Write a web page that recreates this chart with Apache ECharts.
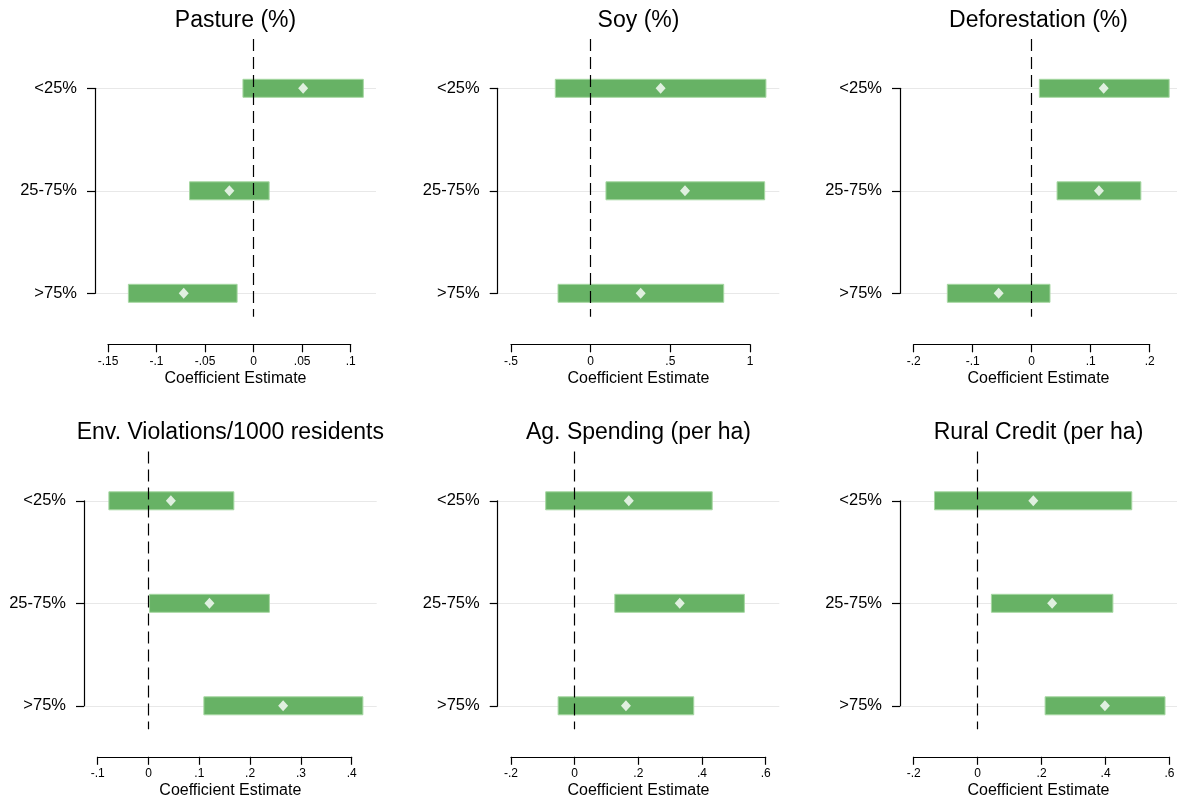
<!DOCTYPE html>
<html>
<head>
<meta charset="utf-8">
<script src="https://cdn.jsdelivr.net/npm/echarts@6/dist/echarts.min.js"></script>
<style>
html,body{margin:0;padding:0;background:#fff;}
#chart{width:1178px;height:804px;}
</style>
</head>
<body>
<div id="chart"></div>
<script>
// ---------- data ----------
const categories = ['<25%', '25-75%', '>75%'];
const panelTitles = ['Pasture (%)', 'Soy (%)', 'Deforestation (%)',
  'Env. Violations/1000 residents', 'Ag. Spending (per ha)', 'Rural Credit (per ha)'];
const axisTitle = 'Coefficient Estimate';

const pastureLow = [-0.011, -0.066, -0.129];
const pastureEst = [0.051, -0.025, -0.072];
const pastureHigh = [0.113, 0.016, -0.017];

const soyLow = [-0.222, 0.096, -0.205];
const soyEst = [0.439, 0.592, 0.314];
const soyHigh = [1.100, 1.092, 0.835];

const deforLow = [0.013, 0.043, -0.143];
const deforEst = [0.122, 0.114, -0.056];
const deforHigh = [0.233, 0.185, 0.031];

const envLow = [-0.078, 0.002, 0.109];
const envEst = [0.044, 0.120, 0.265];
const envHigh = [0.168, 0.238, 0.422];

const agLow = [-0.091, 0.126, -0.052];
const agEst = [0.170, 0.330, 0.161];
const agHigh = [0.432, 0.533, 0.374];

const ruralLow = [-0.135, 0.043, 0.211];
const ruralEst = [0.174, 0.233, 0.398];
const ruralHigh = [0.482, 0.423, 0.586];

// x tick ranges: [min, max, interval]
const pastureTicks = [-0.15, 0.1, 0.05];
const soyTicks = [-0.5, 1, 0.5];
const deforTicks = [-0.2, 0.2, 0.1];
const envTicks = [-0.1, 0.4, 0.1];
const agTicks = [-0.2, 0.6, 0.2];
const ruralTicks = [-0.2, 0.6, 0.2];

// ---------- layout (pixels) ----------
const panelLayout = [
  {row: 0, yAxisX: 95,    plotRight: 376,   tickMinPx: 108,   tickMaxPx: 350.7},
  {row: 0, yAxisX: 497.7, plotRight: 779.3, tickMinPx: 511,   tickMaxPx: 750},
  {row: 0, yAxisX: 900,   plotRight: 1177,  tickMinPx: 913.7, tickMaxPx: 1149.7},
  {row: 1, yAxisX: 84,    plotRight: 376.7, tickMinPx: 97.7,  tickMaxPx: 351.7},
  {row: 1, yAxisX: 497.7, plotRight: 779.3, tickMinPx: 511,   tickMaxPx: 765.7},
  {row: 1, yAxisX: 900,   plotRight: 1177,  tickMinPx: 913.7, tickMaxPx: 1169.5}
];
const rowLayout = [
  {titleTop: 9,   plotTop: 39,   cat1: 88.3,  cat3: 293.3, plotBottom: 316.7, axisY: 344.3},
  {titleTop: 421.5, plotTop: 451.5, cat1: 500.8, cat3: 705.8, plotBottom: 729.2, axisY: 756.8}
];

const panels = [
  {low: pastureLow, est: pastureEst, high: pastureHigh, ticks: pastureTicks},
  {low: soyLow, est: soyEst, high: soyHigh, ticks: soyTicks},
  {low: deforLow, est: deforEst, high: deforHigh, ticks: deforTicks},
  {low: envLow, est: envEst, high: envHigh, ticks: envTicks},
  {low: agLow, est: agEst, high: agHigh, ticks: agTicks},
  {low: ruralLow, est: ruralEst, high: ruralHigh, ticks: ruralTicks}
];

const FONT = '"Liberation Sans", Arial, Helvetica, sans-serif';
const BAR_COLOR = '#67b265';
const BAR_EDGE = '#a6d7a2';

function fmtTick(v) {
  const s = String(+v.toFixed(6));
  return s.replace(/^(-?)0\./, '$1.');
}

const grid = [], xAxis = [], yAxis = [], series = [], title = [];

panels.forEach((p, i) => {
  const L = panelLayout[i];
  const R = rowLayout[L.row];
  const [tMin, tMax, tInt] = p.ticks;
  const pxPerUnit = (L.tickMaxPx - L.tickMinPx) / (tMax - tMin);
  const xMinA = tMin + (L.yAxisX - L.tickMinPx) / pxPerUnit;
  const xMaxA = tMin + (L.plotRight - L.tickMinPx) / pxPerUnit;
  const pxPerCat = (R.cat3 - R.cat1) / 2;
  const yMinA = 1 - (R.cat1 - R.plotTop) / pxPerCat;
  const yMaxA = 3 + (R.plotBottom - R.cat3) / pxPerCat;
  const gA = 3 * i, gB = 3 * i + 1, gC = 3 * i + 2;

  grid.push({left: L.yAxisX, top: R.plotTop, width: L.plotRight - L.yAxisX,
    height: R.plotBottom - R.plotTop, outerBoundsMode: 'none', containLabel: false});
  grid.push({left: L.tickMinPx, top: R.axisY - 20, width: L.tickMaxPx - L.tickMinPx,
    height: 20, outerBoundsMode: 'none', containLabel: false});
  grid.push({left: L.yAxisX, top: R.cat1, width: L.plotRight - L.yAxisX,
    height: R.cat3 - R.cat1, outerBoundsMode: 'none', containLabel: false});

  xAxis.push({gridIndex: gA, type: 'value', min: xMinA, max: xMaxA,
    name: axisTitle, nameLocation: 'middle',
    nameGap: R.axisY + 26 - R.plotBottom,
    nameTextStyle: {fontFamily: FONT, fontSize: 16, color: '#000'},
    axisLine: {show: false}, axisTick: {show: false}, axisLabel: {show: false},
    splitLine: {show: false}});
  yAxis.push({gridIndex: gA, type: 'value', min: yMinA, max: yMaxA, inverse: true, show: false});

  xAxis.push({gridIndex: gB, type: 'value', position: 'bottom', min: tMin, max: tMax, interval: tInt,
    axisLine: {show: true, lineStyle: {color: '#000', width: 1.2}},
    axisTick: {show: true, length: 8, inside: false, lineStyle: {color: '#000', width: 1.2}},
    axisLabel: {show: true, margin: 11, fontFamily: FONT, fontSize: 12, color: '#000',
      formatter: fmtTick, showMinLabel: true, showMaxLabel: true, hideOverlap: false},
    splitLine: {show: false}});
  yAxis.push({gridIndex: gB, type: 'value', show: false});

  xAxis.push({gridIndex: gC, type: 'value', show: false, min: 0, max: 1});
  yAxis.push({gridIndex: gC, type: 'value', min: 1, max: 3, interval: 1, inverse: true,
    position: 'left',
    axisLine: {show: true, lineStyle: {color: '#000', width: 1.2}},
    axisTick: {show: true, length: 8, inside: false, lineStyle: {color: '#000', width: 1.2}},
    axisLabel: {show: true, margin: 18, fontFamily: FONT, fontSize: 16.5, color: '#000',
      formatter: v => categories[Math.round(v) - 1] || '', showMinLabel: true, showMaxLabel: true},
    splitLine: {show: true, lineStyle: {color: '#e8e8e8', width: 1}}});

  series.push({
    type: 'custom', xAxisIndex: gA, yAxisIndex: gA, z: 2, clip: false,
    data: categories.map((c, k) => [p.low[k], p.high[k], k + 1]),
    encode: {x: [0, 1], y: 2},
    renderItem: (params, api) => {
      const a = api.coord([api.value(0), api.value(2)]);
      const b = api.coord([api.value(1), api.value(2)]);
      return {type: 'rect', shape: {x: a[0], y: a[1] - 9, width: b[0] - a[0], height: 18},
        style: {fill: BAR_COLOR, stroke: BAR_EDGE, lineWidth: 1}};
    }
  });
  series.push({
    type: 'scatter', xAxisIndex: gA, yAxisIndex: gA, z: 10,
    symbol: 'diamond', symbolSize: [10, 11],
    itemStyle: {color: '#ffffff'},
    data: categories.map((c, k) => [p.est[k], k + 1]),
    markLine: {
      silent: true, symbol: ['none', 'none'], animation: false,
      label: {show: false},
      lineStyle: {color: '#000', width: 1.2, type: [12, 6]},
      data: [{xAxis: 0}]
    }
  });

  title.push({text: panelTitles[i], left: (L.yAxisX + L.plotRight) / 2, top: R.titleTop,
    textAlign: 'center', padding: 0,
    textStyle: {fontFamily: FONT, fontSize: 23, fontWeight: 'normal', color: '#000'}});
});

const chart = echarts.init(document.getElementById('chart'), null, {renderer: 'canvas'});
chart.setOption({
  backgroundColor: '#ffffff',
  animation: false,
  title, grid, xAxis, yAxis, series
});
</script>
</body>
</html>
